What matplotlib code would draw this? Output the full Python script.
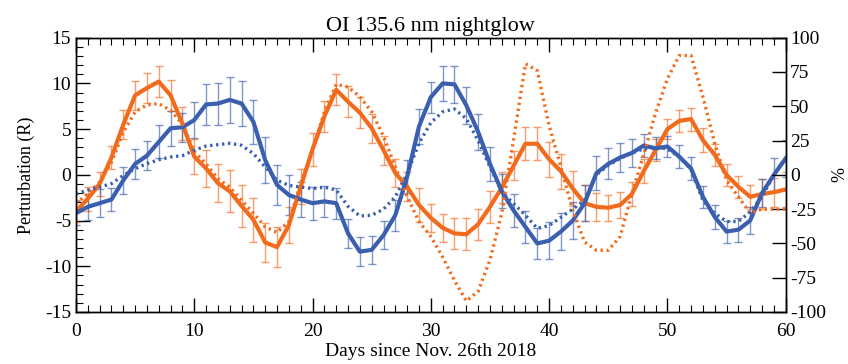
import matplotlib
matplotlib.use("Agg")
import matplotlib.pyplot as plt
from matplotlib.ticker import MultipleLocator
import numpy as np

plt.rcParams['font.family'] = ['Liberation Serif', 'DejaVu Serif']
plt.rcParams['axes.unicode_minus'] = False

days = np.arange(0, 61)

# solid lines: perturbation in R (left axis)
orange_r = [-4.0, -2.6, -1.0, 1.9, 5.5, 8.7, 9.5, 10.2, 8.7, 5.6, 2.0,
            0.7, -0.9, -1.8, -3.4, -4.9, -7.4, -7.9, -5.5, -1.3, 2.8,
            6.4, 9.3, 8.0, 6.8, 5.1, 2.7, 0.2, -1.3, -3.3, -4.7,
            -5.8, -6.4, -6.5, -5.4, -3.5, -1.4, 1.0, 3.4, 3.4, 1.7,
            0.4, -1.5, -3.1, -3.5, -3.6, -3.3, -2.1, 0.4, 2.7, 5.0,
            5.9, 6.1, 3.8, 2.2, 0.0, -1.3, -2.4, -2.1, -1.9, -1.6]
orange_err = [1.2, 1.3, 1.3, 1.3, 1.6, 1.6, 1.6, 1.7, 1.7, 1.8, 1.9,
              2.0, 2.1, 2.3, 2.3, 2.4, 2.1, 2.2, 2.0, 1.9, 1.8,
              1.7, 1.7, 1.7, 1.7, 1.6, 1.6, 1.5, 1.6, 1.9, 1.5,
              1.55, 1.7, 1.75, 1.7, 1.75, 1.7, 1.6, 1.8, 1.8, 1.9,
              1.9, 1.9, 1.95, 1.5, 1.4, 1.4, 1.3, 1.3, 1.2, 1.1,
              1.2, 1.25, 1.3, 1.2, 1.2, 1.2, 1.3, 1.6, 1.6, 1.9]
blue_r = [-4.2, -3.5, -3.1, -2.7, -0.6, 1.2, 2.1, 3.6, 5.1, 5.2, 6.0,
          7.7, 7.8, 8.2, 7.8, 5.8, 1.6, -1.1, -2.2, -2.7, -3.1,
          -2.9, -3.1, -6.4, -8.4, -8.2, -6.6, -4.4, -0.2, 5.3, 8.5,
          10.0, 9.9, 7.6, 4.7, 1.2, -1.8, -3.9, -5.7, -7.5, -7.2,
          -6.2, -5.0, -3.1, 0.2, 1.2, 1.9, 2.4, 3.2, 2.9, 3.1,
          2.0, 0.7, -2.4, -4.6, -6.2, -6.0, -5.0, -2.0, 0.0, 1.8]
blue_err = [1.3, 1.4, 1.5, 1.3, 1.5, 1.6, 1.6, 1.8, 1.9, 1.6, 2.0,
            2.2, 2.3, 2.5, 2.5, 2.4, 2.5, 2.2, 2.2, 1.9, 1.8,
            1.7, 1.7, 1.6, 1.6, 1.5, 1.5, 1.7, 1.8, 1.9, 1.7,
            1.9, 2.0, 2.0, 2.0, 1.9, 1.85, 1.8, 1.75, 1.7, 2.0,
            2.0, 2.0, 2.0, 1.9, 1.7, 1.6, 1.5, 1.3, 1.2, 1.2,
            1.3, 1.3, 1.2, 1.3, 1.2, 1.3, 1.45, 1.5, 1.8, 2.0]

# dotted lines: percent (right axis)
orange_pct = [-21, -13.7, -5.2, 9.3, 31, 46, 51, 52, 47, 37, 17,
              8, -2.8, -9, -18.6, -28, -38, -42, -34, -6.4, 18,
              46, 66, 64, 57, 46, 28, 5.7, -16, -34, -45,
              -60, -77, -92, -85, -62, -28, 26, 81, 76, 36,
              5.7, -26, -49, -55, -55, -45, -14, 15, 45, 70,
              87, 87, 57, 23, -4, -16, -28, -25, -25, -25]
blue_pct = [-14, -11, -9, -6.4, -0.4, 4.5, 8.2, 11, 13, 14, 18,
            21, 22, 23, 21.5, 15.5, 5.7, -4, -7.7, -8.9, -10,
            -9, -11, -23, -30, -29.5, -25, -16, 1, 23, 38,
            46, 48, 41, 25, 5.7, -12.5, -21, -29.5, -39, -37,
            -31, -25, -18.6, 0, 7, 12, 16, 19, 20, 19,
            13, 4, -18.6, -28, -34, -34, -27, -16, 0, 12]

orange = '#f26b1d'
blue = '#3a5fae'

fig = plt.figure(figsize=(8.48, 3.64), dpi=100)
ax = fig.add_axes([0.0896, 0.1429, 0.8369, 0.7535])
ax2 = ax.twinx()

ax.errorbar(days, orange_r, yerr=orange_err, fmt='none', ecolor=orange,
            elinewidth=1, capsize=2.6, capthick=1, alpha=0.65)
ax.errorbar(days, blue_r, yerr=blue_err, fmt='none', ecolor=blue,
            elinewidth=1, capsize=2.6, capthick=1, alpha=0.65)
ax.plot(days, orange_r, color=orange, lw=3)
ax.plot(days, blue_r, color=blue, lw=3)

ax2.plot(days, orange_pct, color=orange, lw=2.4, ls=(0, (0.7, 1.1)))
ax2.plot(days, blue_pct, color=blue, lw=2.4, ls=(0, (0.7, 1.1)))

ax.set_xlim(0, 60)
ax.set_ylim(-15, 15)
ax2.set_ylim(-100, 100)

ax.xaxis.set_major_locator(MultipleLocator(10))
ax.xaxis.set_minor_locator(MultipleLocator(1))
ax.yaxis.set_major_locator(MultipleLocator(5))
ax.yaxis.set_minor_locator(MultipleLocator(1))
ax2.yaxis.set_major_locator(MultipleLocator(25))

ax.tick_params(which='both', direction='in', top=True, right=False,
               labelsize=14)
ax.tick_params(axis='x', pad=8)
ax.tick_params(which='major', length=10, width=1)
ax.tick_params(which='minor', length=5, width=0.8)
ax2.tick_params(which='major', direction='in', length=10, width=1,
                labelsize=14, pad=3)

for a in (ax, ax2):
    for s in a.spines.values():
        s.set_linewidth(1)

ax.set_xlabel('Days since Nov. 26th 2018', fontsize=14, labelpad=2)
ax.set_ylabel('Perturbation (R)', fontsize=13, labelpad=7)
ax2.set_ylabel('%', fontsize=13, labelpad=4)
ax.set_title('OI 135.6 nm nightglow', fontsize=16, pad=5)

fig.savefig('out.png', dpi=100)
